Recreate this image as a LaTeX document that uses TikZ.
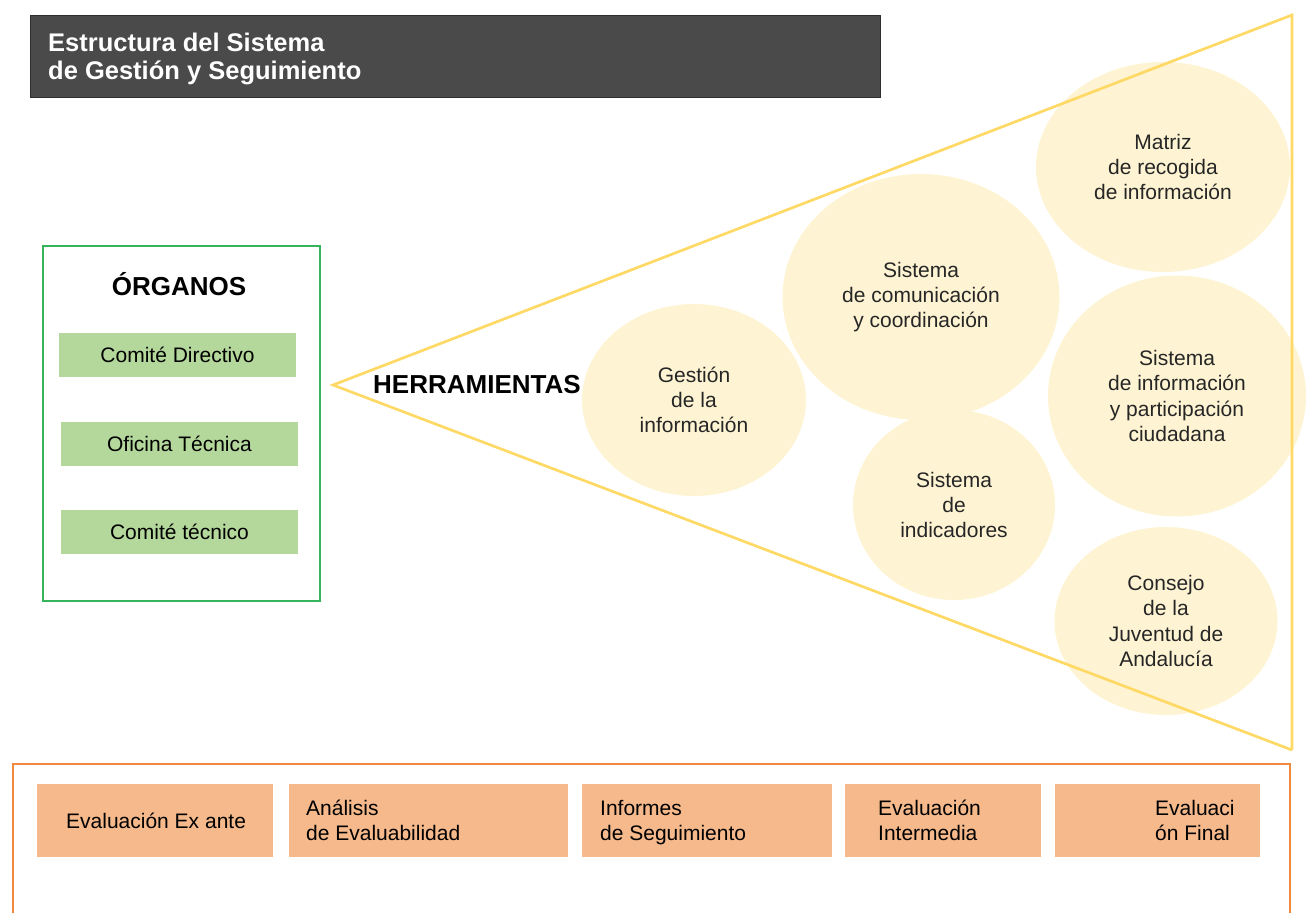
\documentclass[tikz,border=0pt]{standalone}
\usepackage{fontspec}
\setmainfont{Liberation Sans}
\usetikzlibrary{shapes.geometric}
\definecolor{titlefill}{HTML}{4A4A4A}
\definecolor{titleline}{HTML}{2E2E2E}
\definecolor{greenline}{HTML}{35B45B}
\definecolor{greenfill}{HTML}{B4D89B}
\definecolor{triline}{HTML}{FFD966}
\definecolor{circfill}{HTML}{FEF4D3}
\definecolor{orangeline}{HTML}{F0883E}
\definecolor{orangefill}{HTML}{F5B98B}
\definecolor{circtext}{HTML}{262626}
\tikzset{
  gbox/.style={rectangle, fill=greenfill, draw=none, inner sep=0pt, font=\fontsize{21}{25}\selectfont},
  obox/.style={rectangle, fill=orangefill, draw=none, inner sep=0pt, minimum height=73pt, anchor=north west},
  otext/.style={align=left, inner sep=0pt, anchor=west, font=\fontsize{21}{25}\selectfont},
  circ/.style={ellipse, fill=circfill, draw=none, inner sep=0pt, align=center, text=circtext, font=\fontsize{21}{25.3}\selectfont},
  bigbold/.style={font=\fontsize{26}{28}\selectfont\bfseries, inner sep=0pt},
}
\begin{document}
\begin{tikzpicture}[x=1pt,y=-1pt]
\useasboundingbox (0,0) rectangle (1306,913);
% title
\node[rectangle, fill=titlefill, draw=titleline, line width=1pt, minimum width=850pt, minimum height=82pt, anchor=north west, inner sep=0pt] (title) at (30,15) {};
\node[bigbold, text=white, align=left, anchor=north west, font=\fontsize{25.5}{28}\selectfont\bfseries] (titletext) at (48,33) {Estructura del Sistema\\de Gestión y Seguimiento};
% organos
\node[rectangle, draw=greenline, line width=2pt, minimum width=277pt, minimum height=355pt, anchor=north west, inner sep=0pt] (organos) at (42,245) {};
\node[bigbold] (organostit) at (179,284) {ÓRGANOS};
\node[gbox, minimum width=237pt, minimum height=44pt] (cd) at (177.5,355) {Comité Directivo};
\node[gbox, minimum width=237pt, minimum height=44pt] (ot) at (179.5,444) {Oficina Técnica};
\node[gbox, minimum width=237pt, minimum height=44pt] (ct) at (179.5,532) {Comité técnico};
% circles
\node[circ, minimum width=224pt, minimum height=192pt] (gest) at (694,400) {Gestión\\de la\\información};
\node[circ, minimum width=277pt, minimum height=246pt] (comu) at (921,297) {Sistema\\de comunicación\\y coordinación};
\node[circ, minimum width=254pt, minimum height=210pt] (matriz) at (1163,167) {Matriz\\de recogida\\de información};
\node[circ, minimum width=258pt, minimum height=241pt] (info) at (1177,396) {Sistema\\de información\\y participación\\ciudadana};
\node[circ, minimum width=202pt, minimum height=190pt] (indic) at (954,505) {Sistema\\de\\indicadores};
\node[circ, minimum width=223pt, minimum height=188pt] (consejo) at (1166,621) {Consejo\\de la\\Juventud de\\Andalucía};
% triangle
\coordinate (tip) at (333,385);
\coordinate (tr) at (1292,15);
\coordinate (br) at (1292,750);
\draw[triline, line width=2.7pt, line join=miter] (br) -- (tip) -- (tr) -- (br);
\node[bigbold, anchor=west] (herr) at (373,385) {HERRAMIENTAS};
% evaluation container
\coordinate (oc1) at (13,913);
\coordinate (oc2) at (13,764);
\coordinate (oc3) at (1290,764);
\coordinate (oc4) at (1290,913);
\draw[orangeline, line width=2.5pt] (oc1) -- (oc2) -- (oc3) -- (oc4);
\node[obox, minimum width=236pt] (e1) at (37,784) {};
\node[otext] at ([xshift=29pt]e1.west) {Evaluación Ex ante};
\node[obox, minimum width=279pt] (e2) at (289,784) {};
\node[otext] at ([xshift=17pt]e2.west) {Análisis\\de Evaluabilidad};
\node[obox, minimum width=250pt] (e3) at (582,784) {};
\node[otext] at ([xshift=18pt,yshift=-2pt]e3.west) {Informes\\de Seguimiento};
\node[obox, minimum width=196pt] (e4) at (845,784) {};
\node[otext] at ([xshift=33pt]e4.west) {Evaluación\\Intermedia};
\node[obox, minimum width=205pt] (e5) at (1055,784) {};
\node[otext] at ([xshift=100pt]e5.west) {Evaluaci\\ón Final};
\end{tikzpicture}
\end{document}
